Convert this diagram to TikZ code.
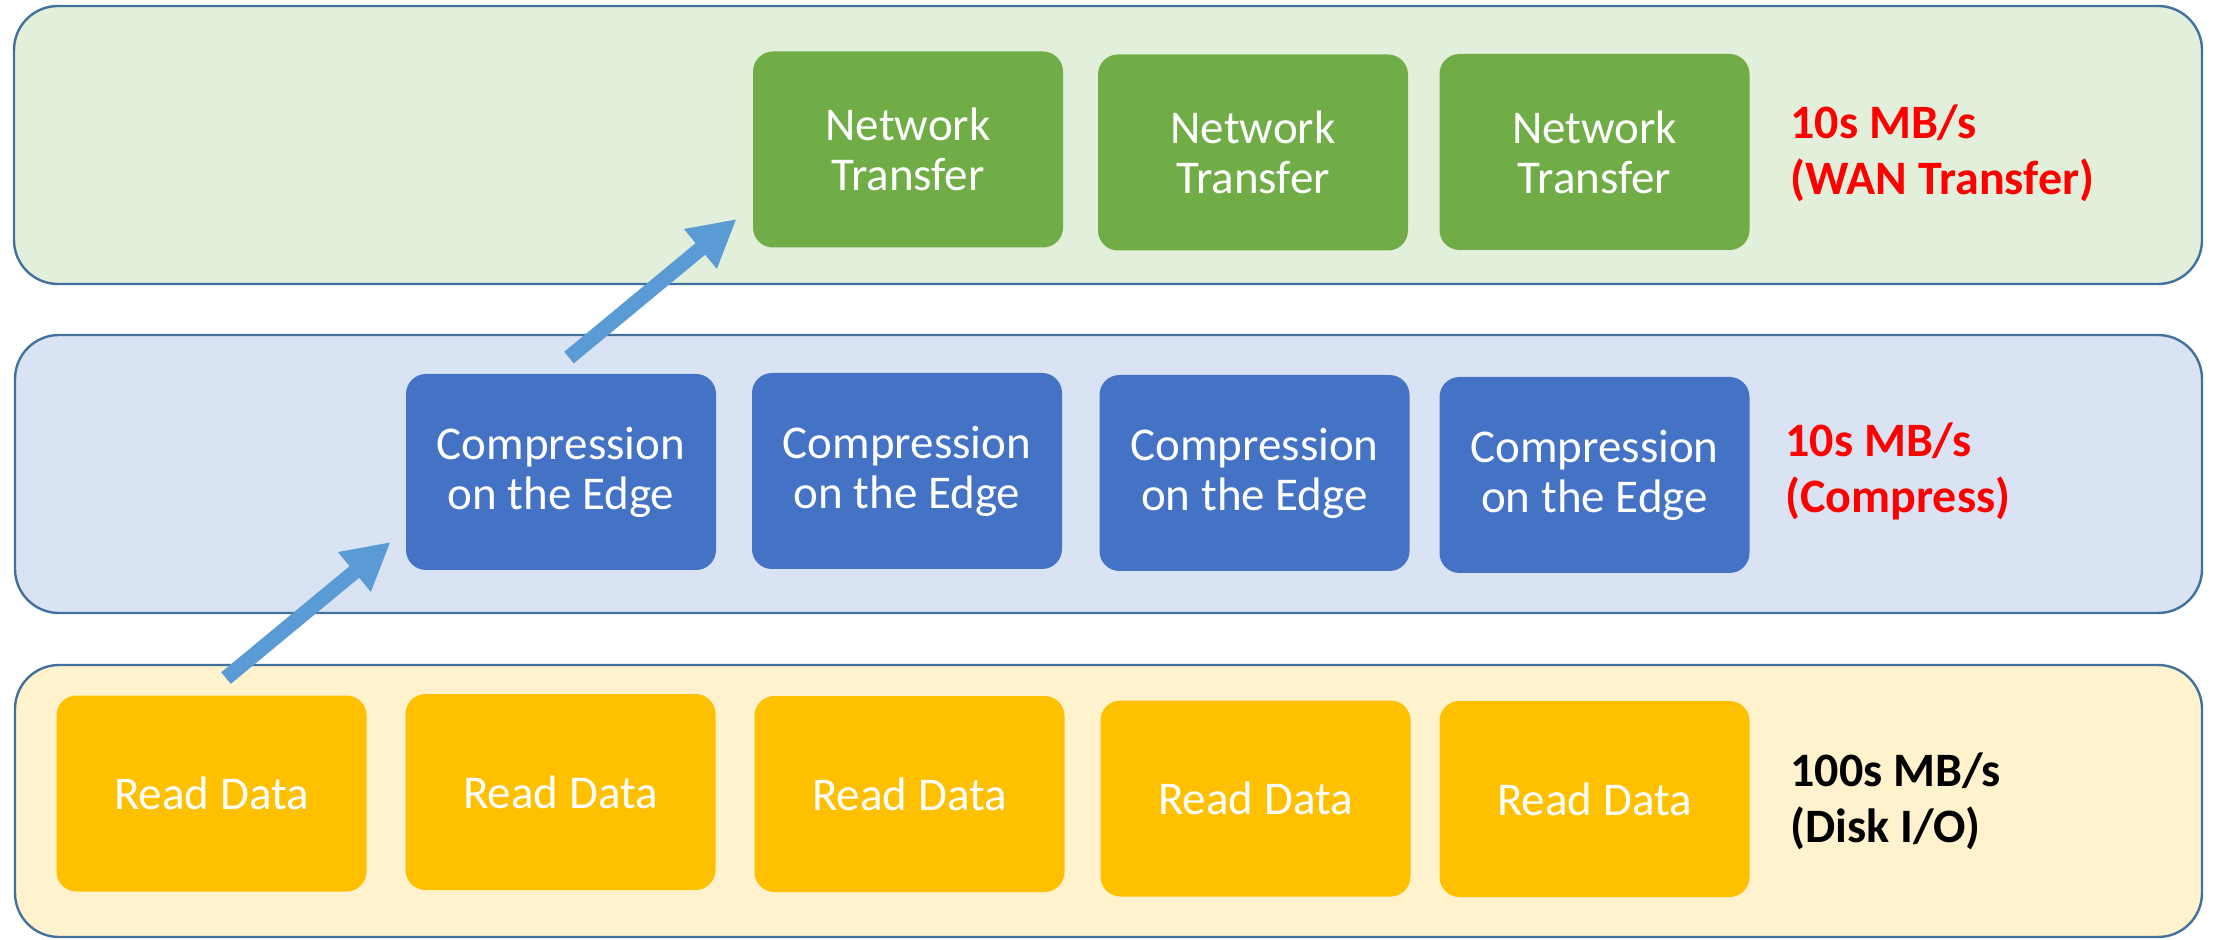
\documentclass[tikz,border=0pt]{standalone}
\usepackage{fontspec}
\setmainfont{Carlito}
\usetikzlibrary{arrows.meta}

\definecolor{bandline}{HTML}{41719C}
\definecolor{greenband}{HTML}{E2EFDA}
\definecolor{blueband}{HTML}{DAE3F3}
\definecolor{yellowband}{HTML}{FFF2CC}
\definecolor{greenbox}{HTML}{70AD47}
\definecolor{bluebox}{HTML}{4472C4}
\definecolor{yellowbox}{HTML}{FFC000}
\definecolor{flowarrow}{HTML}{5B9BD5}
\definecolor{ratered}{HTML}{FF0000}

\tikzset{
  band/.style={draw=bandline, line width=1.2pt, rounded corners=22pt},
  stagebox/.style={rounded corners=10pt, minimum width=155pt, minimum height=98pt,
    inner sep=0pt, align=center, text=white,
    font=\fontsize{23.5}{25}\selectfont},
  netbox/.style={stagebox, fill=greenbox},
  compbox/.style={stagebox, fill=bluebox},
  readbox/.style={stagebox, fill=yellowbox},
  % the base anchor sits on the last line of the two-line label
  ratelabel/.style={anchor=base west, align=left, inner sep=0pt,
    font=\fontsize{24}{28}\selectfont\bfseries},
  flow/.style={draw=flowarrow, line width=7.5pt,
    -{Triangle[length=23.5pt, width=24pt]}, fill=flowarrow}
}

\begin{document}
\begin{tikzpicture}[x=0.5pt, y=-0.5pt]
  \useasboundingbox (0,0) rectangle (2216,940);

  % three stage bands
  \draw[band, fill=greenband]  (14,6)   rectangle (2202,284);
  \draw[band, fill=blueband]   (15,335) rectangle (2202,613);
  \draw[band, fill=yellowband] (15,665) rectangle (2202,937);

  % network transfer stage
  \node[netbox] (nt1) at (908,149.5)  {Network\\Transfer};
  \node[netbox] (nt2) at (1253,152.5) {Network\\Transfer};
  \node[netbox] (nt3) at (1594.5,152) {Network\\Transfer};
  \node[ratelabel, text=ratered] (ntrate) at (1790,195) {10s MB/s\\(WAN Transfer)};

  % compression stage
  \node[compbox] (cp1) at (561,472)    {Compression\\on the Edge};
  \node[compbox] (cp2) at (907,471)    {Compression\\on the Edge};
  \node[compbox] (cp3) at (1254.5,473) {Compression\\on the Edge};
  \node[compbox] (cp4) at (1594.5,475) {Compression\\on the Edge};
  \node[ratelabel, text=ratered] (cprate) at (1785,513) {10s MB/s\\(Compress)};

  % read stage
  \node[readbox] (rd1) at (211.5,793.5) {Read Data};
  \node[readbox] (rd2) at (560.5,792)   {Read Data};
  \node[readbox] (rd3) at (909.5,794)   {Read Data};
  \node[readbox] (rd4) at (1255.5,798.5){Read Data};
  \node[readbox] (rd5) at (1594.5,799)  {Read Data};
  \node[ratelabel, text=black] (rdrate) at (1790,842) {100s MB/s\\(Disk I/O)};

  % data flow between stages
  \draw[flow] ([shift={(14.5,-17)}]rd1.north) -- ([shift={(-15,70)}]cp1.west);
  \draw[flow] ([shift={(8,-16)}]cp1.north) -- ([shift={(-16,69.5)}]nt1.west);
\end{tikzpicture}
\end{document}
